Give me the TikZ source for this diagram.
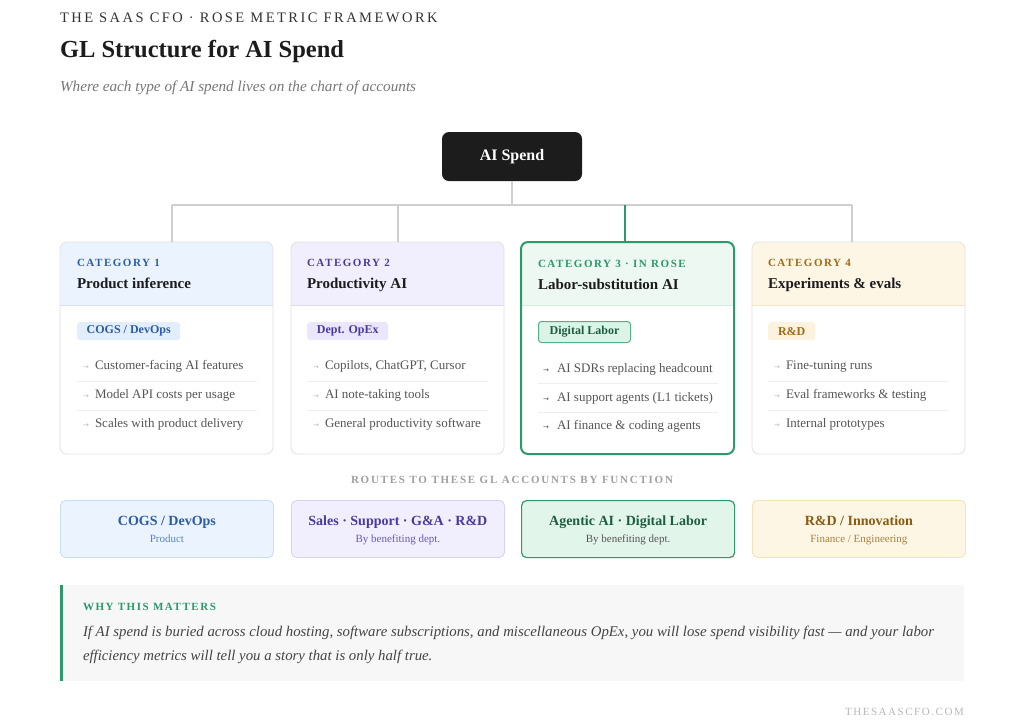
\documentclass[tikz,border=0pt]{standalone}
\usepackage{fontspec}
\setmainfont{Liberation Serif}
\newfontfamily\trk[LetterSpace=14]{Liberation Serif}
\newfontfamily\trkk[LetterSpace=17]{Liberation Serif}
\newfontfamily\trkr[LetterSpace=16]{Liberation Serif}
\newfontfamily\arr{DejaVu Sans}
\definecolor{ink}{HTML}{1C1C1C}
\definecolor{ink2}{HTML}{333333}
\definecolor{whyt}{HTML}{444444}
\definecolor{subg}{HTML}{777777}
\definecolor{itemc}{HTML}{555555}
\definecolor{cardline}{HTML}{E2E2E2}
\definecolor{conn}{HTML}{CFCFCF}
\definecolor{sepl}{HTML}{EFEFEF}
\definecolor{blueT}{HTML}{2B5CA8}
\definecolor{blueH}{HTML}{EAF3FE}
\definecolor{blueS}{HTML}{D5E5F8}
\definecolor{blueTag}{HTML}{E3EEFC}
\definecolor{blueB}{HTML}{C9DDF5}
\definecolor{blueSub}{HTML}{5A86C6}
\definecolor{purT}{HTML}{4A3AA0}
\definecolor{purH}{HTML}{F1EEFD}
\definecolor{purS}{HTML}{E0DAF8}
\definecolor{purTag}{HTML}{EBE6FC}
\definecolor{purB}{HTML}{D8D0F5}
\definecolor{purSub}{HTML}{6A5AB8}
\definecolor{grnT}{HTML}{2A9A6A}
\definecolor{grnH}{HTML}{ECF8F1}
\definecolor{grnS}{HTML}{D3EDDF}
\definecolor{grnTag}{HTML}{DDF3E7}
\definecolor{grnB}{HTML}{2E9A6C}
\definecolor{grnDark}{HTML}{1E5E40}
\definecolor{grnBox}{HTML}{E2F5EB}
\definecolor{brnT}{HTML}{A06A18}
\definecolor{brnH}{HTML}{FDF6E4}
\definecolor{brnS}{HTML}{F3E6C4}
\definecolor{brnTag}{HTML}{FDF2DD}
\definecolor{brnB}{HTML}{F3E2B6}
\definecolor{brnDark}{HTML}{8A5A10}
\definecolor{brnSub}{HTML}{A88040}
\definecolor{whybg}{HTML}{F7F7F7}
\definecolor{routeg}{HTML}{A0A0A0}
\definecolor{footg}{HTML}{B8B8B8}
\definecolor{arrg}{HTML}{BBBBBB}

\tikzset{
  txt/.style={anchor=base west, inner sep=0pt, outer sep=0pt},
  ctxt/.style={anchor=base, inner sep=0pt, outer sep=0pt},
  cardbase/.style={anchor=north west, fill=white, minimum width=213pt, minimum height=212pt, inner sep=0pt, outer sep=0pt, rounded corners=7pt},
  rootbox/.style={fill=ink, rounded corners=7pt, minimum width=140pt, minimum height=49pt, inner sep=0pt, text=white, font=\fontsize{16}{18}\selectfont\bfseries},
  connline/.style={draw=conn, line width=1.4pt},
  catlab/.style={txt, font=\fontsize{11}{13}\selectfont\bfseries\trk},
  cattitle/.style={txt, text=ink, font=\fontsize{15}{17}\selectfont\bfseries},
  tagbox/.style={anchor=north west, rounded corners=3pt, inner sep=0pt, font=\fontsize{12}{14}\selectfont\bfseries},
  item/.style={txt, text=itemc, font=\fontsize{13}{15}\selectfont},
  arrow/.style={txt, text=arrg, font=\fontsize{7}{8}\selectfont\arr},
  sepline/.style={draw=sepl, line width=0.8pt},
  botbox/.style={anchor=north west, minimum width=213pt, minimum height=57pt, inner sep=0pt, rounded corners=5pt, line width=0.8pt},
  botmain/.style={ctxt, font=\fontsize{14}{16}\selectfont\bfseries},
  botsub/.style={ctxt, font=\fontsize{11}{13}\selectfont},
}

\newcommand\mkcard[5]{%
  \node[cardbase] (#1) at (#2,242) {};
  \begin{scope}
    \clip[rounded corners=7pt] (#1.north west) rectangle (#1.south east);
    \fill[#3] (#1.north west) rectangle (#1.east |- 0,305);
    \draw[#4, line width=0.8pt] (#1.west |- 0,305) -- (#1.east |- 0,305);
  \end{scope}
  \draw[rounded corners=7pt, #5] (#1.north west) rectangle (#1.south east);
}

\begin{document}
\begin{tikzpicture}[x=1pt,y=-1pt]
\useasboundingbox[fill=white] (0,0) rectangle (1024,724);

% header texts
\node[txt, text=ink2, font=\fontsize{14.5}{16}\selectfont\trkk] (kicker) at (60,22) {THE SAAS CFO · ROSE METRIC FRAMEWORK};
\node[txt, text=ink, font=\fontsize{24.5}{30}\selectfont\bfseries] (title) at (60,57) {GL Structure for AI Spend};
\node[txt, text=subg, font=\fontsize{15.2}{18}\selectfont\itshape] (subtitle) at (60,91) {Where each type of AI spend lives on the chart of accounts};

% root
\node[rootbox] (root) at (512,156.5) {AI Spend};

% cards
\mkcard{c1}{60}{blueH}{blueS}{cardline, line width=0.8pt}
\mkcard{c2}{291}{purH}{purS}{cardline, line width=0.8pt}
\mkcard{c3}{521}{grnH}{grnS}{grnB, line width=2pt}
\mkcard{c4}{752}{brnH}{brnS}{cardline, line width=0.8pt}

% connectors
\coordinate (bus) at (512,205);
\coordinate (d1) at (172,205);
\coordinate (d2) at (398,205);
\coordinate (d3) at (625,205);
\coordinate (d4) at (852,205);
\draw[connline] (root.south) -- (bus);
\draw[connline] (d1) -- (d4);
\draw[connline] (d1) -- (d1 |- c1.north);
\draw[connline] (d2) -- (d2 |- c2.north);
\draw[connline] (d4) -- (d4 |- c4.north);
\draw[draw=grnB, line width=1.6pt] (d3) -- (d3 |- c3.north);

% card 1
\node[catlab, text=blueT] (c1cat) at (77,266) {CATEGORY 1};
\node[cattitle] (c1t) at (77,288) {Product inference};
\node[tagbox, fill=blueTag, text=blueT, minimum width=103pt, minimum height=18pt] (c1tag) at (77,322) {COGS / DevOps};
\node[arrow] (c1a1) at (83,369) {→};
\node[item] (c1i1) at (95,369) {Customer-facing AI features};
\draw[sepline] (77,381) -- (257,381);
\node[arrow] (c1a2) at (83,398) {→};
\node[item] (c1i2) at (95,398) {Model API costs per usage};
\draw[sepline] (77,410) -- (257,410);
\node[arrow] (c1a3) at (83,427) {→};
\node[item] (c1i3) at (95,427) {Scales with product delivery};

% card 2
\node[catlab, text=purT] (c2cat) at (307,266) {CATEGORY 2};
\node[cattitle] (c2t) at (307,288) {Productivity AI};
\node[tagbox, fill=purTag, text=purT, minimum width=81pt, minimum height=18pt] (c2tag) at (307,322) {Dept. OpEx};
\node[arrow] (c2a1) at (313,369) {→};
\node[item] (c2i1) at (325,369) {Copilots, ChatGPT, Cursor};
\draw[sepline] (307,381) -- (488,381);
\node[arrow] (c2a2) at (313,398) {→};
\node[item] (c2i2) at (325,398) {AI note-taking tools};
\draw[sepline] (307,410) -- (488,410);
\node[arrow] (c2a3) at (313,427) {→};
\node[item] (c2i3) at (325,427) {General productivity software};

% card 3
\node[catlab, text=grnT] (c3cat) at (538,267) {CATEGORY 3 · IN ROSE};
\node[cattitle] (c3t) at (538,289) {Labor-substitution AI};
\node[tagbox, fill=grnTag, draw=grnB!80, line width=1pt, text=grnDark, minimum width=92pt, minimum height=21pt] (c3tag) at (538,321) {Digital Labor};
\node[arrow, text=itemc] (c3a1) at (543,372) {→};
\node[item] (c3i1) at (557,372) {AI SDRs replacing headcount};
\draw[sepline] (538,383) -- (718,383);
\node[arrow, text=itemc] (c3a2) at (543,401) {→};
\node[item] (c3i2) at (557,401) {AI support agents (L1 tickets)};
\draw[sepline] (538,412) -- (718,412);
\node[arrow, text=itemc] (c3a3) at (543,429) {→};
\node[item] (c3i3) at (557,429) {AI finance \& coding agents};

% card 4
\node[catlab, text=brnT] (c4cat) at (768,266) {CATEGORY 4};
\node[cattitle] (c4t) at (768,288) {Experiments \& evals};
\node[tagbox, fill=brnTag, text=brnT, minimum width=47pt, minimum height=18pt] (c4tag) at (768,322) {R\&D};
\node[arrow] (c4a1) at (774,369) {→};
\node[item] (c4i1) at (786,369) {Fine-tuning runs};
\draw[sepline] (768,381) -- (948,381);
\node[arrow] (c4a2) at (774,398) {→};
\node[item] (c4i2) at (786,398) {Eval frameworks \& testing};
\draw[sepline] (768,410) -- (948,410);
\node[arrow] (c4a3) at (774,427) {→};
\node[item] (c4i3) at (786,427) {Internal prototypes};

% routes label
\node[ctxt, text=routeg, font=\fontsize{11}{13}\selectfont\bfseries\trkr] (routes) at (512,483) {ROUTES TO THESE GL ACCOUNTS BY FUNCTION};

% bottom boxes
\node[botbox, fill=blueH, draw=blueB] (b1) at (60,500) {};
\node[botmain, text=blueT] (b1m) at (b1.center |- 0,525) {COGS / DevOps};
\node[botsub, text=blueSub] (b1s) at (b1.center |- 0,542) {Product};

\node[botbox, fill=purH, draw=purB] (b2) at (291,500) {};
\node[botmain, text=purT] (b2m) at (b2.center |- 0,525) {Sales · Support · G\&A · R\&D};
\node[botsub, text=purSub] (b2s) at (b2.center |- 0,542) {By benefiting dept.};

\node[botbox, fill=grnBox, draw=grnB, line width=1.2pt] (b3) at (521,500) {};
\node[botmain, text=grnDark] (b3m) at (b3.center |- 0,525) {Agentic AI · Digital Labor};
\node[botsub, text=itemc] (b3s) at (b3.center |- 0,542) {By benefiting dept.};

\node[botbox, fill=brnH, draw=brnB] (b4) at (752,500) {};
\node[botmain, text=brnDark] (b4m) at (b4.center |- 0,525) {R\&D / Innovation};
\node[botsub, text=brnSub] (b4s) at (b4.center |- 0,542) {Finance / Engineering};

% why box
\node[anchor=north west, fill=whybg, minimum width=904pt, minimum height=96pt, inner sep=0pt, outer sep=0pt] (why) at (60,585) {};
\fill[grnB] (why.north west) rectangle ([xshift=3pt]why.south west);
\node[txt, text=grnT, font=\fontsize{11}{13}\selectfont\bfseries\trk] (whyl) at (83,610) {WHY THIS MATTERS};
\node[txt, text=whyt, font=\fontsize{14.8}{18}\selectfont\itshape] (why1) at (83,636) {If AI spend is buried across cloud hosting, software subscriptions, and miscellaneous OpEx, you will lose spend visibility fast — and your labor};
\node[txt, text=whyt, font=\fontsize{14.8}{18}\selectfont\itshape] (why2) at (83,660) {efficiency metrics will tell you a story that is only half true.};

% footer
\node[anchor=base east, inner sep=0pt, text=footg, font=\fontsize{11}{13}\selectfont\trk] (foot) at (964,715) {THESAASCFO.COM};
\end{tikzpicture}
\end{document}
